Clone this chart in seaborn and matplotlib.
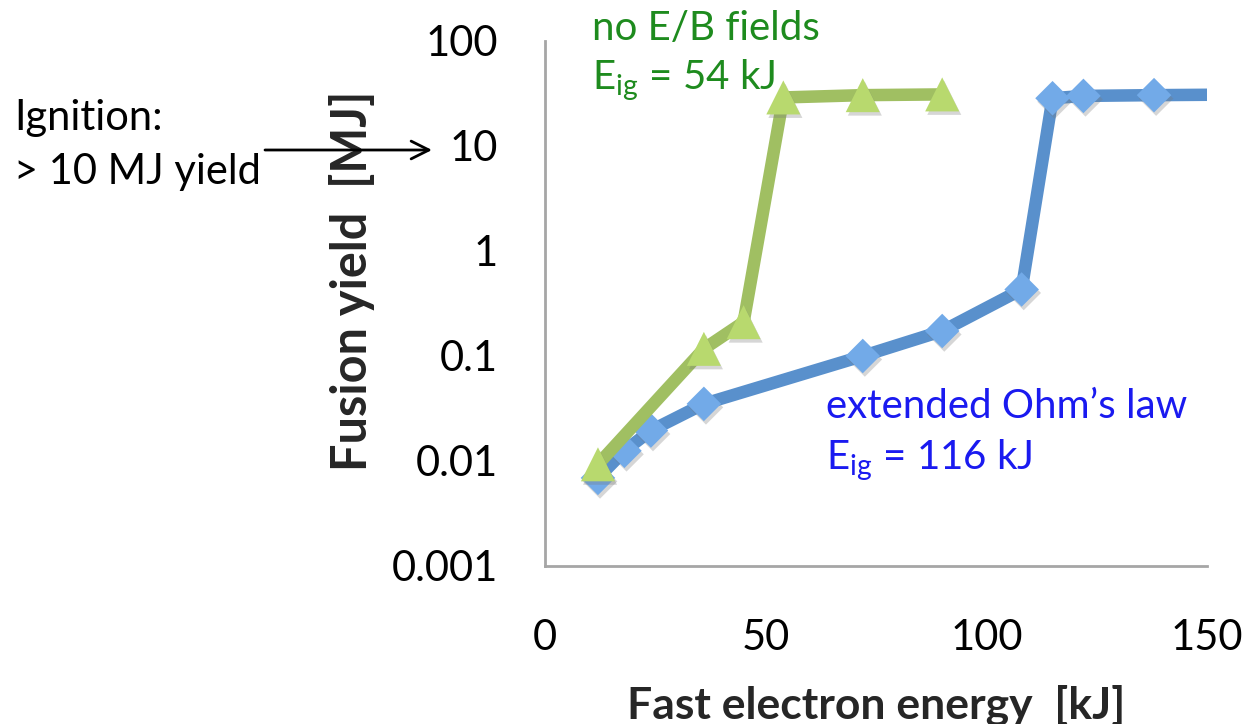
import matplotlib
matplotlib.use("Agg")
import matplotlib.pyplot as plt
import matplotlib.patheffects as pe
from matplotlib.ticker import NullLocator, FixedLocator, FixedFormatter
import numpy as np
import pandas as pd
import seaborn as sns

# Fusion yield vs. fast electron energy, two transport models
ohm_energy = [12, 18, 24, 36, 72, 90, 108, 115, 122, 138, 162]
ohm_yield = [0.0069, 0.0125, 0.0195, 0.035, 0.10, 0.173, 0.43, 28.5, 30.0, 30.5, 31.0]

nofield_energy = [12, 36, 45, 54, 72, 90]
nofield_yield = [0.0093, 0.117, 0.21, 29.0, 30.5, 31.0]

ytick_values = [0.001, 0.01, 0.1, 1, 10, 100]
ytick_labels = ["0.001", "0.01", "0.1", "1", "10", "100"]
xtick_values = [0, 50, 100, 150]
xtick_labels = ["0", "50", "100", "150"]

ohm_df = pd.DataFrame({"energy": ohm_energy, "yield": ohm_yield})
nofield_df = pd.DataFrame({"energy": nofield_energy, "yield": nofield_yield})

sns.set_theme(style="white")
plt.rcParams["font.family"] = ["Lato", "DejaVu Sans"]
plt.rcParams["mathtext.default"] = "regular"

W, H = 1247, 724
fig = plt.figure(figsize=(W / 100, H / 100), dpi=100)
ax = fig.add_axes([545 / W, 1 - 566 / H, 662 / W, 525 / H])

blue_line = "#5990CC"
blue_fill = "#72AAE8"
green_line = "#A0BF62"
green_fill = "#B8D96E"

shadow = [pe.SimplePatchShadow(offset=(1.5, -2.5), shadow_rgbFace="#7A7A7A", alpha=0.3), pe.Normal()]

# extended Ohm's law series
sns.lineplot(data=ohm_df, x="energy", y="yield", ax=ax, color=blue_line,
             linewidth=9, sort=False, zorder=2)
sns.scatterplot(data=ohm_df, x="energy", y="yield", ax=ax, marker="D",
                s=310, color=blue_fill, edgecolor="none", zorder=3)
ax.collections[-1].set_path_effects(shadow)

# no E/B fields series
sns.lineplot(data=nofield_df, x="energy", y="yield", ax=ax, color=green_line,
             linewidth=9, sort=False, zorder=4)
sns.scatterplot(data=nofield_df, x="energy", y="yield", ax=ax, marker="^",
                s=600, color=green_fill, edgecolor="none", zorder=5)
ax.collections[-1].set_path_effects(shadow)

ax.set_yscale("log")
ax.set_xlim(0, 150)
ax.set_ylim(0.001, 100)
ax.yaxis.set_major_locator(FixedLocator(ytick_values))
ax.yaxis.set_major_formatter(FixedFormatter(ytick_labels))
ax.yaxis.set_minor_locator(NullLocator())
ax.xaxis.set_major_locator(FixedLocator(xtick_values))
ax.xaxis.set_major_formatter(FixedFormatter(xtick_labels))

axis_gray = "#A6A6A6"
for side in ["top", "right"]:
    ax.spines[side].set_visible(False)
for side in ["left", "bottom"]:
    ax.spines[side].set_color(axis_gray)
    ax.spines[side].set_linewidth(2)
ax.tick_params(axis="both", which="major", direction="out", length=10, width=2,
               color=axis_gray, labelsize=30, labelcolor="black")
ax.tick_params(axis="x", pad=28)
ax.tick_params(axis="y", pad=24)

ax.set_xlabel("Fast electron energy  [kJ]", fontsize=32, fontweight="bold", va="center")
ax.set_ylabel("Fusion yield  [MJ]", fontsize=35, fontweight="bold", va="center")
ax.xaxis.set_label_coords(0.5, (566 - 705) / 525)
ax.yaxis.set_label_coords((352 - 545) / 662, (566 - 281) / 525)

def fig_text(x, y, s, **kw):
    fig.text(x / W, 1 - y / H, s, va="center", ha="left", **kw)

fig_text(592, 28, "no E/B fields", fontsize=29, color="#1E8B1E")
fig_text(592, 80, "E$_{ig}$ = 54 kJ", fontsize=29, color="#1E8B1E")
fig_text(826, 407, "extended Ohm\u2019s law", fontsize=29, color="#1A1AF0")
fig_text(826, 460, "E$_{ig}$ = 116 kJ", fontsize=29, color="#1A1AF0")
fig_text(14, 118, "Ignition:", fontsize=30, color="black")
fig_text(14, 172, "> 10 MJ yield", fontsize=30, color="black")

ax.annotate("", xy=(432, H - 150), xytext=(265, H - 150),
            xycoords="figure pixels", textcoords="figure pixels",
            arrowprops=dict(arrowstyle="->", lw=2, color="black", mutation_scale=32,
                            shrinkA=0, shrinkB=0))

fig.savefig("out.png", dpi=100)
